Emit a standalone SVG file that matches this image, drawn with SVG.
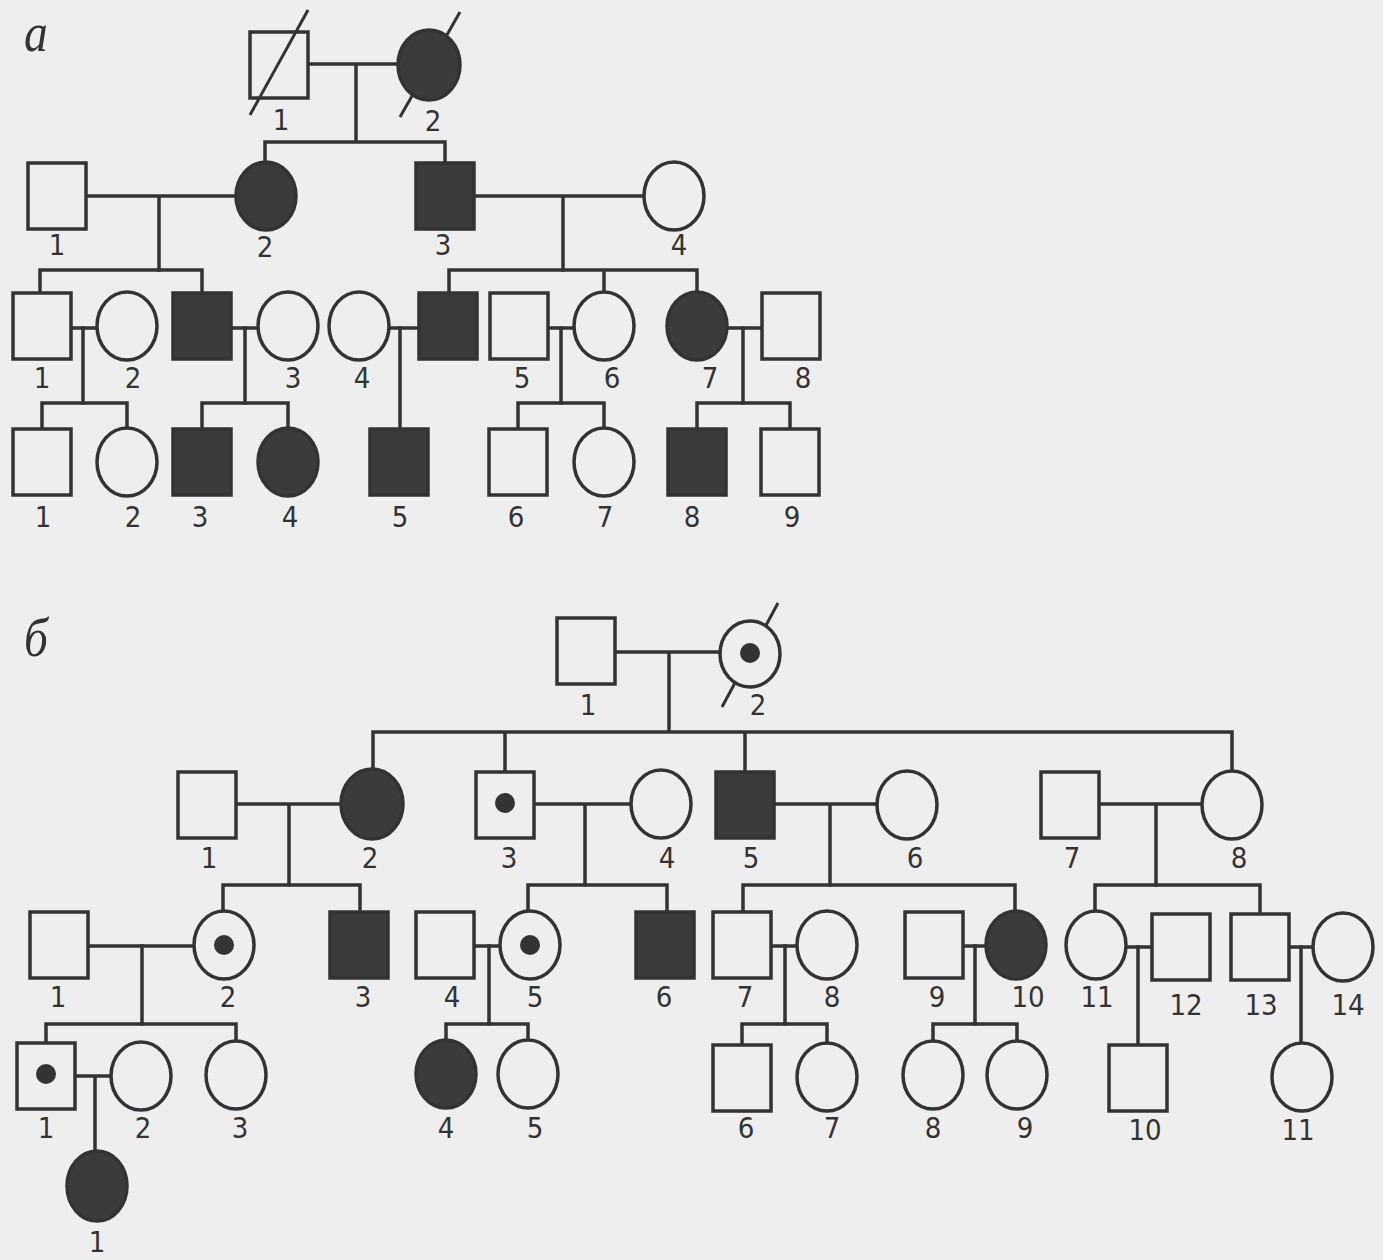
<svg xmlns="http://www.w3.org/2000/svg" width="1383" height="1260" viewBox="0 0 1383 1260">
<style>
.ln{stroke:#333;stroke-width:3.5;fill:none;stroke-linecap:square}
.o{fill:#efeeee;stroke:#333;stroke-width:3.5}
.f{fill:#3b3b3b;stroke:#333;stroke-width:3.5}
.d{fill:#333}
.dg{stroke:#333;stroke-width:3;fill:none}
.t{font-family:"Liberation Sans Narrow","DejaVu Sans Condensed","Liberation Sans",sans-serif;font-size:29px;fill:#333;text-anchor:middle}
.h{font-family:"Liberation Serif",serif;font-style:italic;font-size:56px;fill:#333}
</style>
<rect width="1383" height="1260" fill="#efeeee"/>
<text class="h" transform="translate(24,51) scale(0.85,1)">а</text>
<text class="h" transform="translate(24,656) scale(0.85,1)">б</text>

<g id="connectors">
<!-- part a -->
<path class="ln" d="M308 64H398M356 64V142M265 142H445M265 142V162M445 142V163"/>
<path class="ln" d="M86 196H236M159 196V270M474 196H644M563 196V270"/>
<path class="ln" d="M40 270H202M40 270V293M202 270V293M449 270H697M449 270V293M604 270V292M697 270V292"/>
<path class="ln" d="M71 328H97M231 328H258M389 328H419M548 328H574M727 328H762"/>
<path class="ln" d="M83 328V403M245 328V403M400 328V429M561 328V403M743 328V403"/>
<path class="ln" d="M42 403H127M42 403V429M127 403V428M202 403H288M202 403V429M288 403V428M518 403H604M518 403V429M604 403V428M697 403H790M697 403V429M790 403V429"/>
<!-- part b -->
<path class="ln" d="M615 652H720M669 652V732M373 732H1232M373 732V769M505 732V772M745 732V772M1232 732V771"/>
<path class="ln" d="M236 804H341M534 804H631M774 804H877M1099 804H1202M289 804V885M585 804V885M830 804V885M1156 804V885"/>
<path class="ln" d="M223 885H360M223 885V911M360 885V912M528 885H667M528 885V911M667 885V912M743 885H1015M743 885V912M1015 885V911M1095 885H1260M1095 885V911M1260 885V914"/>
<path class="ln" d="M88 946H194M474 946H500M771 946H797M963 946H986M1126 947H1152M1289 947H1313"/>
<path class="ln" d="M142 946V1024M489 946V1024M785 946V1024M975 946V1024M1138 947V1045M1301 947V1043"/>
<path class="ln" d="M46 1024H236M46 1024V1043M236 1024V1041M446 1024H528M446 1024V1040M528 1024V1040M742 1024H827M742 1024V1045M827 1024V1043M933 1024H1017M933 1024V1041M1017 1024V1041"/>
<path class="ln" d="M75 1076H110M95 1076V1151"/>
</g>

<!-- part a nodes -->
<g id="a-I-1"><rect class="o" x="250" y="32" width="58" height="66"/><line class="dg" x1="250" y1="115" x2="308" y2="10"/><text class="t" x="281" y="130">1</text></g>
<g id="a-I-2"><line class="dg" x1="400" y1="117" x2="460" y2="12"/><ellipse class="f" cx="429" cy="65" rx="31" ry="35"/><text class="t" x="433" y="131">2</text></g>

<g id="a-II-1"><rect class="o" x="28" y="163" width="58" height="66"/><text class="t" x="57" y="255">1</text></g>
<g id="a-II-2"><ellipse class="f" cx="266" cy="196" rx="30" ry="34"/><text class="t" x="265" y="257">2</text></g>
<g id="a-II-3"><rect class="f" x="416" y="163" width="58" height="66"/><text class="t" x="443" y="255">3</text></g>
<g id="a-II-4"><ellipse class="o" cx="674" cy="196" rx="30" ry="34"/><text class="t" x="679" y="255">4</text></g>

<g id="a-III-1"><rect class="o" x="13" y="293" width="58" height="66"/><text class="t" x="42" y="388">1</text></g>
<g id="a-III-2"><ellipse class="o" cx="127" cy="326" rx="30" ry="34"/><text class="t" x="133" y="388">2</text></g>
<g id="a-III-2b"><rect class="f" x="173" y="293" width="58" height="66"/></g>
<g id="a-III-3"><ellipse class="o" cx="288" cy="326" rx="30" ry="34"/><text class="t" x="293" y="388">3</text></g>
<g id="a-III-4"><ellipse class="o" cx="359" cy="326" rx="30" ry="34"/><text class="t" x="362" y="388">4</text></g>
<g id="a-III-4b"><rect class="f" x="419" y="293" width="58" height="66"/></g>
<g id="a-III-5"><rect class="o" x="490" y="293" width="58" height="66"/><text class="t" x="522" y="388">5</text></g>
<g id="a-III-6"><ellipse class="o" cx="604" cy="326" rx="30" ry="34"/><text class="t" x="612" y="388">6</text></g>
<g id="a-III-7"><ellipse class="f" cx="697" cy="326" rx="30" ry="34"/><text class="t" x="710" y="388">7</text></g>
<g id="a-III-8"><rect class="o" x="762" y="293" width="58" height="66"/><text class="t" x="803" y="388">8</text></g>

<g id="a-IV-1"><rect class="o" x="13" y="429" width="58" height="66"/><text class="t" x="43" y="527">1</text></g>
<g id="a-IV-2"><ellipse class="o" cx="127" cy="462" rx="30" ry="34"/><text class="t" x="133" y="527">2</text></g>
<g id="a-IV-3"><rect class="f" x="173" y="429" width="58" height="66"/><text class="t" x="200" y="527">3</text></g>
<g id="a-IV-4"><ellipse class="f" cx="288" cy="462" rx="30" ry="34"/><text class="t" x="290" y="527">4</text></g>
<g id="a-IV-5"><rect class="f" x="370" y="429" width="58" height="66"/><text class="t" x="400" y="527">5</text></g>
<g id="a-IV-6"><rect class="o" x="489" y="429" width="58" height="66"/><text class="t" x="516" y="527">6</text></g>
<g id="a-IV-7"><ellipse class="o" cx="604" cy="462" rx="30" ry="34"/><text class="t" x="605" y="527">7</text></g>
<g id="a-IV-8"><rect class="f" x="668" y="429" width="58" height="66"/><text class="t" x="692" y="527">8</text></g>
<g id="a-IV-9"><rect class="o" x="761" y="429" width="58" height="66"/><text class="t" x="792" y="527">9</text></g>

<!-- part b nodes -->
<g id="b-I-1"><rect class="o" x="557" y="618" width="58" height="66"/><text class="t" x="588" y="715">1</text></g>
<g id="b-I-2"><line class="dg" x1="722" y1="707" x2="778" y2="603"/><ellipse class="o" cx="750" cy="654" rx="30" ry="33"/><circle class="d" cx="750" cy="653" r="10"/><text class="t" x="758" y="715">2</text></g>

<g id="b-II-1"><rect class="o" x="178" y="772" width="58" height="66"/><text class="t" x="209" y="868">1</text></g>
<g id="b-II-2"><ellipse class="f" cx="372" cy="804" rx="31" ry="35"/><text class="t" x="370" y="868">2</text></g>
<g id="b-II-3"><rect class="o" x="476" y="772" width="58" height="66"/><circle class="d" cx="505" cy="803" r="10"/><text class="t" x="509" y="868">3</text></g>
<g id="b-II-4"><ellipse class="o" cx="661" cy="804" rx="30" ry="34"/><text class="t" x="667" y="868">4</text></g>
<g id="b-II-5"><rect class="f" x="716" y="772" width="58" height="66"/><text class="t" x="751" y="868">5</text></g>
<g id="b-II-6"><ellipse class="o" cx="907" cy="805" rx="30" ry="34"/><text class="t" x="915" y="868">6</text></g>
<g id="b-II-7"><rect class="o" x="1041" y="772" width="58" height="66"/><text class="t" x="1072" y="868">7</text></g>
<g id="b-II-8"><ellipse class="o" cx="1232" cy="805" rx="30" ry="34"/><text class="t" x="1239" y="868">8</text></g>

<g id="b-III-1"><rect class="o" x="30" y="912" width="58" height="66"/><text class="t" x="58" y="1007">1</text></g>
<g id="b-III-2"><ellipse class="o" cx="224" cy="945" rx="30" ry="34"/><circle class="d" cx="224" cy="945" r="10"/><text class="t" x="228" y="1007">2</text></g>
<g id="b-III-3"><rect class="f" x="330" y="912" width="58" height="66"/><text class="t" x="363" y="1007">3</text></g>
<g id="b-III-4"><rect class="o" x="416" y="912" width="58" height="66"/><text class="t" x="452" y="1007">4</text></g>
<g id="b-III-5"><ellipse class="o" cx="530" cy="945" rx="30" ry="34"/><circle class="d" cx="530" cy="945" r="10"/><text class="t" x="535" y="1007">5</text></g>
<g id="b-III-6"><rect class="f" x="636" y="912" width="58" height="66"/><text class="t" x="664" y="1007">6</text></g>
<g id="b-III-7"><rect class="o" x="713" y="912" width="58" height="66"/><text class="t" x="745" y="1007">7</text></g>
<g id="b-III-8"><ellipse class="o" cx="827" cy="945" rx="30" ry="34"/><text class="t" x="832" y="1007">8</text></g>
<g id="b-III-9"><rect class="o" x="905" y="912" width="58" height="66"/><text class="t" x="937" y="1007">9</text></g>
<g id="b-III-10"><ellipse class="f" cx="1016" cy="945" rx="30" ry="34"/><text class="t" x="1028" y="1007">10</text></g>
<g id="b-III-11"><ellipse class="o" cx="1096" cy="945" rx="30" ry="34"/><text class="t" x="1097" y="1007">11</text></g>
<g id="b-III-12"><rect class="o" x="1152" y="914" width="58" height="66"/><text class="t" x="1186" y="1015">12</text></g>
<g id="b-III-13"><rect class="o" x="1231" y="914" width="58" height="66"/><text class="t" x="1261" y="1015">13</text></g>
<g id="b-III-14"><ellipse class="o" cx="1343" cy="947" rx="30" ry="34"/><text class="t" x="1348" y="1015">14</text></g>

<g id="b-IV-1"><rect class="o" x="17" y="1043" width="58" height="66"/><circle class="d" cx="46" cy="1074" r="10"/><text class="t" x="46" y="1138">1</text></g>
<g id="b-IV-2"><ellipse class="o" cx="141" cy="1076" rx="30" ry="34"/><text class="t" x="143" y="1138">2</text></g>
<g id="b-IV-3"><ellipse class="o" cx="236" cy="1075" rx="30" ry="34"/><text class="t" x="240" y="1138">3</text></g>
<g id="b-IV-4"><ellipse class="f" cx="446" cy="1074" rx="30" ry="34"/><text class="t" x="446" y="1138">4</text></g>
<g id="b-IV-5"><ellipse class="o" cx="528" cy="1074" rx="30" ry="34"/><text class="t" x="535" y="1138">5</text></g>
<g id="b-IV-6"><rect class="o" x="713" y="1045" width="58" height="66"/><text class="t" x="746" y="1138">6</text></g>
<g id="b-IV-7"><ellipse class="o" cx="827" cy="1077" rx="30" ry="34"/><text class="t" x="832" y="1138">7</text></g>
<g id="b-IV-8"><ellipse class="o" cx="933" cy="1075" rx="30" ry="34"/><text class="t" x="933" y="1138">8</text></g>
<g id="b-IV-9"><ellipse class="o" cx="1017" cy="1075" rx="30" ry="34"/><text class="t" x="1025" y="1138">9</text></g>
<g id="b-IV-10"><rect class="o" x="1109" y="1045" width="58" height="66"/><text class="t" x="1145" y="1140">10</text></g>
<g id="b-IV-11"><ellipse class="o" cx="1302" cy="1077" rx="30" ry="34"/><text class="t" x="1298" y="1140">11</text></g>

<g id="b-V-1"><ellipse class="f" cx="97" cy="1186" rx="30" ry="35"/><text class="t" x="97" y="1252">1</text></g>
</svg>
